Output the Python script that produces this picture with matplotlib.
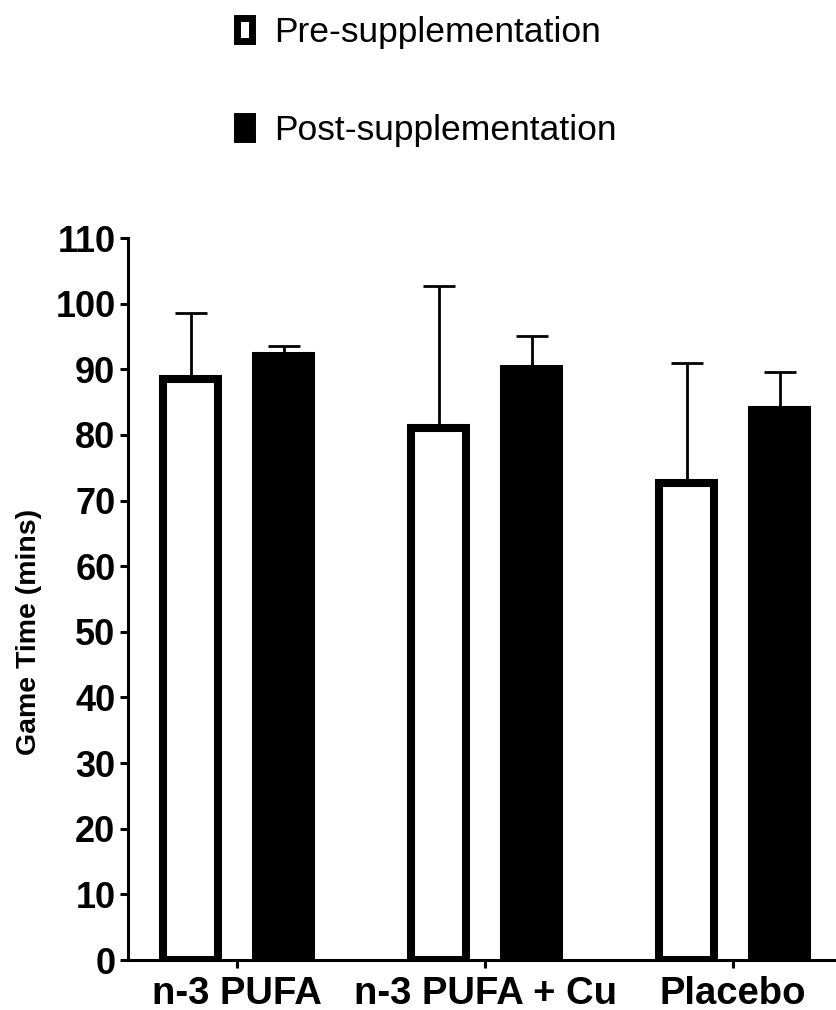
import numpy as np
import matplotlib
matplotlib.use('Agg')
import matplotlib.pyplot as plt

plt.rcParams['font.family'] = ['Liberation Sans', 'DejaVu Sans']

groups = ['n-3 PUFA', 'n-3 PUFA + Cu', 'Placebo']
pre_mean = [88.5, 81.0, 72.7]
pre_sd = [10.1, 21.7, 18.2]
post_mean = [92.0, 90.0, 83.8]
post_sd = [1.5, 5.1, 5.8]
series_labels = ['Pre-supplementation', 'Post-supplementation']

x = np.arange(len(groups))
w = 0.222
off = 0.1875

fig = plt.figure(figsize=(8.36, 10.10), dpi=100)
ax = fig.add_axes([128 / 836, 50 / 1010, 708 / 836, 722 / 1010])

err_kw = dict(elinewidth=2, capthick=2, ecolor='black')
b1 = ax.bar(x - off, pre_mean, w, color='white', edgecolor='black', linewidth=5.8,
            yerr=[np.zeros(3), pre_sd], capsize=11.5, error_kw=err_kw, zorder=2)
b2 = ax.bar(x + off, post_mean, w, color='black', edgecolor='black', linewidth=5.8,
            yerr=[np.zeros(3), post_sd], capsize=11.5, error_kw=err_kw, zorder=2)

ax.set_ylim(0, 110)
ax.set_xlim(-0.44, 2.415)
ax.set_yticks(np.arange(0, 111, 10))
ax.set_xticks(x)
ax.set_xticklabels(groups)
for s in ['top', 'right']:
    ax.spines[s].set_visible(False)
for s in ['left', 'bottom']:
    ax.spines[s].set_linewidth(2.2)
ax.tick_params(axis='both', direction='out', length=6, width=2.2)
ax.tick_params(axis='y', labelsize=26, pad=3)
ax.tick_params(axis='x', labelsize=27.5, pad=5.5)
for lab in ax.get_xticklabels() + ax.get_yticklabels():
    lab.set_fontweight('bold')
ax.set_ylabel('Game Time (mins)', fontsize=20.5, fontweight='bold')
ax.yaxis.set_label_coords(-0.122, 0.455)

leg = fig.legend([b1, b2], series_labels, loc='upper left', bbox_to_anchor=(0.264, 1.0),
                 frameon=False, fontsize=25.5, handlelength=0.42, handleheight=0.62,
                 handletextpad=0.63, labelspacing=1.83, borderaxespad=0.05)
for h in leg.legend_handles:
    h.set_linewidth(5)

fig.savefig('out.png', dpi=100)
